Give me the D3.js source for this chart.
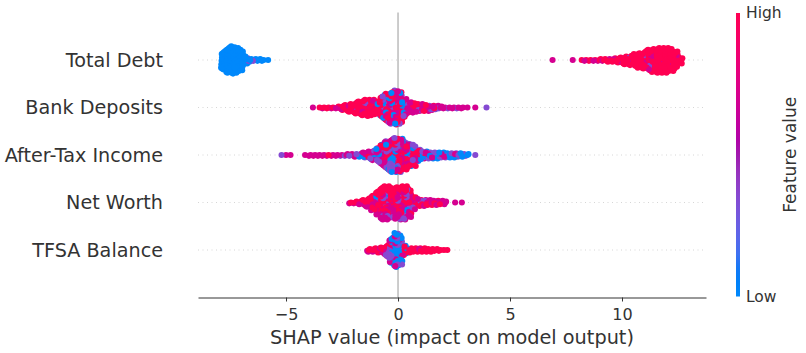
<!DOCTYPE html>
<html><head><meta charset="utf-8">
<script src="https://cdn.jsdelivr.net/npm/d3@7/dist/d3.min.js"></script>
<style>body{margin:0;background:#fff} svg{display:block}</style>
</head><body><svg id="c" width="806" height="353"></svg>
<script>
// ---------- data ----------
const features = ["Total Debt", "Bank Deposits", "After-Tax Income", "Net Worth", "TFSA Balance"];
const xTicks = [-5, 0, 5, 10];
const colorTickLabels = ["Low", "High"];
const xLabel = "SHAP value (impact on model output)";
const colorLabel = "Feature value";
// feature value (0 = low, 1 = high) of the four count columns in each bin
const featureLevels = [1, 0.7, 0.35, 0];
// bins: [SHAP value, n high, n mid-high, n mid-low, n low]
const totalDebtBins = [
  [-7.8,0,0,0,22],[-7.6,0,0,0,30],[-7.4,0,0,0,33],[-7.2,0,0,0,31],[-7.0,0,0,0,25],[-6.8,0,0,1,9],
  [-6.6,0,0,1,3],[-6.4,0,0,1,2],[-6.2,0,0,0,3],[-6.0,0,0,0,2],[-5.8,0,0,0,1],
  [6.9,0,1,0,0],[7.8,0,1,0,0],[8.2,1,0,0,0],[8.4,1,1,0,0],[8.6,2,0,0,0],[8.8,1,1,0,0],[9.0,2,1,0,0],
  [9.2,2,1,0,0],[9.4,3,1,0,0],[9.6,4,1,0,0],[9.8,5,1,0,0],[10.0,6,1,1,0],[10.2,8,1,1,0],[10.4,10,1,1,0],
  [10.6,12,2,1,0],[10.8,15,2,1,0],[11.0,18,2,1,0],[11.2,21,3,1,0],[11.4,24,3,1,0],[11.6,27,2,1,0],
  [11.8,28,2,0,0],[12.0,29,1,0,0],[12.2,26,1,0,0],[12.4,20,1,0,0],[12.6,8,0,0,0]
];
const bankDepositsBins = [
  [-3.8,0,1,0,0],[-3.5,1,0,0,0],[-3.3,1,1,0,0],[-3.1,2,0,0,0],[-2.9,1,1,0,0],[-2.7,2,1,0,0],[-2.5,5,1,0,0],
  [-2.3,7,1,0,0],[-2.1,8,2,0,0],[-1.9,11,2,1,0],[-1.7,13,2,1,0],[-1.5,15,3,1,0],[-1.3,16,3,1,0],
  [-1.1,15,3,1,0],[-0.9,11,2,1,1],[-0.7,10,6,7,4],[-0.5,12,8,9,5],[-0.3,13,9,10,6],[-0.1,15,10,10,6],
  [0.1,15,9,9,5],[0.3,10,7,4,1],[0.5,6,6,1,0],[0.7,5,6,1,0],[0.9,4,5,1,0],[1.1,4,4,1,0],[1.3,3,4,1,0],
  [1.5,2,3,1,0],[1.7,1,3,1,0],[1.9,0,2,1,0],[2.1,0,2,0,0],[2.3,0,1,1,0],[2.5,0,2,0,0],[2.7,0,1,1,0],
  [2.9,0,2,0,0],[3.1,0,1,0,0],[3.45,0,1,0,0],[3.95,0,0,1,0]
];
const afterTaxIncomeBins = [
  [-5.2,0,0,1,0],[-5.0,0,1,0,0],[-4.8,0,1,0,0],[-4.15,0,1,0,0],[-3.9,0,2,0,0],[-3.7,0,2,0,0],[-3.5,0,2,0,0],
  [-3.3,0,2,0,0],[-3.1,1,1,0,0],[-2.9,0,2,0,0],[-2.7,0,2,0,0],[-2.5,0,1,1,0],[-2.3,0,2,1,0],[-2.1,0,2,1,0],
  [-1.9,0,3,1,0],[-1.7,0,3,1,1],[-1.5,0,4,2,1],[-1.3,1,4,3,1],[-1.1,1,5,4,2],[-0.9,2,7,5,3],[-0.7,6,6,8,6],
  [-0.5,9,7,10,8],[-0.3,12,8,11,9],[-0.1,14,8,11,8],[0.1,15,8,10,7],[0.3,14,7,8,5],[0.5,13,5,6,4],
  [0.7,11,5,6,4],[0.9,3,3,4,4],[1.1,1,2,3,4],[1.3,0,2,3,4],[1.5,0,2,3,3],[1.7,0,1,3,4],[1.9,0,1,3,3],
  [2.1,0,1,2,4],[2.3,0,1,2,3],[2.5,0,1,2,3],[2.7,0,1,2,2],[2.9,0,0,2,2],[3.1,0,0,1,2],[3.45,0,0,1,0]
];
const netWorthBins = [
  [-2.1,1,1,0,0],[-1.9,2,1,0,0],[-1.7,3,2,0,0],[-1.5,4,4,0,0],[-1.3,6,5,0,0],[-1.1,9,8,1,0],[-0.9,13,10,4,1],
  [-0.7,19,14,6,1],[-0.5,19,14,6,1],[-0.3,17,13,5,1],[-0.1,18,14,5,1],[0.1,20,14,5,1],[0.3,20,14,5,1],
  [0.5,17,12,4,1],[0.7,7,7,2,0],[0.9,4,4,1,0],[1.1,3,4,1,0],[1.3,3,4,0,0],[1.5,3,4,0,0],[1.7,2,3,1,0],
  [1.9,2,3,0,0],[2.1,1,3,0,0],[2.55,0,1,0,0],[2.85,0,1,0,0]
];
const tfsaBalanceBins = [
  [-1.3,2,2,0,0],[-1.1,3,2,0,0],[-0.9,4,2,0,0],[-0.7,4,3,0,0],[-0.5,4,7,3,0],[-0.3,3,10,8,9],
  [-0.1,0,8,8,25],[0.1,0,5,6,25],[0.3,6,2,0,4],[0.5,5,1,0,0],[0.7,5,0,0,0],[0.9,4,1,0,0],[1.1,5,0,0,0],
  [1.3,4,0,0,0],[1.5,4,0,0,0],[1.7,3,0,0,0],[1.9,2,0,0,0],[2.05,1,0,0,0],[2.2,1,0,0,0]
];
const binsByFeature = [totalDebtBins, bankDepositsBins, afterTaxIncomeBins, netWorthBins, tfsaBalanceBins];

// ---------- drawing ----------
const FONT = "DejaVu Sans, Liberation Sans, sans-serif";
const svg = d3.select("#c");
const x = d3.scaleLinear().domain([-8.93, 13.75]).range([198, 706]);
const y = d3.scalePoint().domain(features).range([60, 250]);
const rowStep = y.step();
const yTop = y(features[0]) - rowStep, yBot = y(features[features.length - 1]) + rowStep;

// SHAP red_blue colormap (LCH interpolation, darker middle)
function shapColor(t) {
  const l = t < 0.5 ? 54 + (40 - 54) * (t / 0.5) : 40 + (54 - 40) * ((t - 0.5) / 0.5);
  const c = 70 + 20 * t;
  const h = 266.93 + (380.32 - 266.93) * t;
  return d3.hcl(h % 360, c, l).formatHex();
}

// dotted row guide lines
svg.append("g").selectAll("line").data(features).join("line")
  .attr("x1", x.range()[0]).attr("x2", x.range()[1])
  .attr("y1", d => y(d)).attr("y2", d => y(d))
  .attr("stroke", "#cccccc").attr("stroke-width", 0.8).attr("stroke-dasharray", "1,3.5");

// zero line
svg.append("line").attr("x1", x(0)).attr("x2", x(0)).attr("y1", yTop).attr("y2", yBot)
  .attr("stroke", "#999999").attr("stroke-width", 1);

// beeswarm dots
const layerPx = 0.85, binStep = 0.2, R = 3.05;
const dots = [];
let gi = 0;
binsByFeature.forEach((bins, fi) => {
  const cy = y(features[fi]);
  bins.forEach(b => {
    const v = b[0];
    const items = [];
    featureLevels.forEach((lev, li) => {
      const n = b[li + 1];
      for (let j = 0; j < n; j++) items.push({lev, key: (j + 0.5) / n + li * 0.013});
    });
    items.sort((a, c) => a.key - c.key);
    items.forEach((it, k) => {
      const off = Math.ceil(k / 2) * ((k % 2) * 2 - 1) * layerPx;
      const jit = (((k * 0.618034) + 0.5) % 1 - 0.5) * binStep;
      dots.push({x: x(v + jit), y: cy + off, c: shapColor(it.lev), o: (gi * 0.7548776662) % 1});
      gi++;
    });
  });
});
dots.sort((a, b) => a.o - b.o);
svg.append("g").selectAll("circle").data(dots).join("circle")
  .attr("cx", d => d.x).attr("cy", d => d.y).attr("r", R).attr("fill", d => d.c);

// x axis
const ax = svg.append("g").attr("transform", `translate(0,${yBot})`)
  .call(d3.axisBottom(x).tickValues(xTicks).tickSize(4).tickSizeOuter(0)
    .tickFormat(d => d < 0 ? "\u2212" + Math.abs(d) : String(d)));
ax.select(".domain").attr("stroke", "#333").attr("stroke-width", 1);
ax.selectAll(".tick line").attr("stroke", "#333");
ax.selectAll(".tick text").attr("y", 22.5).attr("dy", null)
  .attr("fill", "#333").style("font-family", FONT).style("font-size", "16px");

svg.append("text").attr("x", (x.range()[0] + x.range()[1]) / 2).attr("y", 344)
  .attr("text-anchor", "middle").attr("fill", "#333")
  .style("font-family", FONT).style("font-size", "19.3px").text(xLabel);

// feature labels
svg.append("g").selectAll("text").data(features).join("text")
  .attr("x", 163).attr("y", d => y(d)).attr("text-anchor", "end").attr("dominant-baseline", "central")
  .attr("fill", "#333").style("font-family", FONT).style("font-size", "19.2px").text(d => d);

// colour bar
const cbX = 736, cbW = 4, cbTop = 13, cbBot = 296.5;
const defs = svg.append("defs");
const grad = defs.append("linearGradient").attr("id", "cbg").attr("x1", 0).attr("y1", 1).attr("x2", 0).attr("y2", 0);
d3.range(0, 1.0001, 0.05).forEach(t => grad.append("stop").attr("offset", t).attr("stop-color", shapColor(t)));
svg.append("rect").attr("x", cbX).attr("y", cbTop).attr("width", cbW).attr("height", cbBot - cbTop)
  .attr("fill", "url(#cbg)");
const cbScale = d3.scaleLinear().domain([0, 1]).range([cbBot, cbTop]);
svg.append("g").selectAll("text").data(colorTickLabels).join("text")
  .attr("x", 746).attr("y", (d, i) => cbScale(i)).attr("dominant-baseline", "central")
  .attr("fill", "#333").style("font-family", FONT).style("font-size", "15.5px").text(d => d);
svg.append("text").attr("transform", `translate(790,${(cbTop + cbBot) / 2}) rotate(-90)`)
  .attr("text-anchor", "middle").attr("dominant-baseline", "central")
  .attr("fill", "#333").style("font-family", FONT).style("font-size", "17px").text(colorLabel);
</script></body></html>
